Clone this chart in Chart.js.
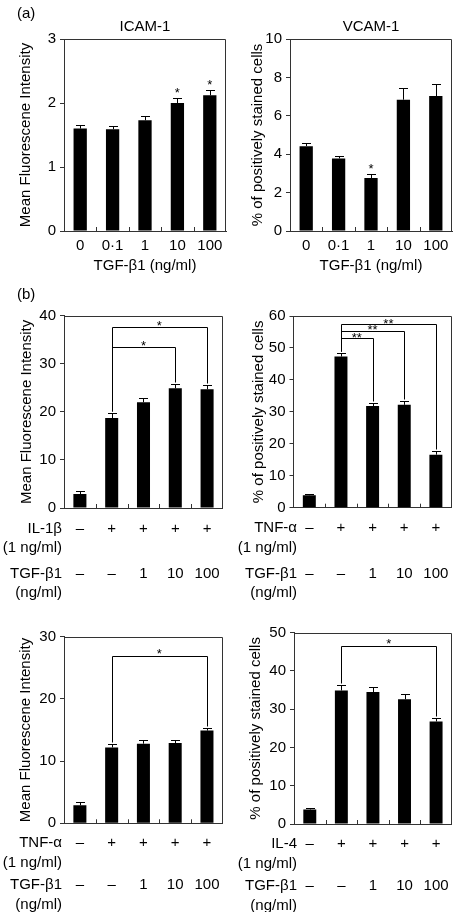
<!DOCTYPE html>
<html><head><meta charset="utf-8">
<script src="https://cdn.jsdelivr.net/npm/chart.js@4"></script>
<style>
html,body{margin:0;padding:0;background:#fff;}
body{width:458px;height:912px;position:relative;overflow:hidden;}
canvas{position:absolute;}
</style></head><body>
<canvas id="c1" width="229" height="280" style="left:0;top:0"></canvas>
<canvas id="c2" width="229" height="280" style="left:229px;top:0"></canvas>
<canvas id="c3" width="229" height="330" style="left:0;top:280px"></canvas>
<canvas id="c4" width="229" height="330" style="left:229px;top:280px"></canvas>
<canvas id="c5" width="229" height="302" style="left:0;top:610px"></canvas>
<canvas id="c6" width="229" height="302" style="left:229px;top:610px"></canvas>
<script>
// ---------- data ----------
const doseLabels = ['0', '0·1', '1', '10', '100'];
const icamA = [1.60, 1.59, 1.73, 2.00, 2.12];
const icamAErr = [0.05, 0.05, 0.06, 0.08, 0.08];
const icamAStars = ['', '', '', '*', '*'];
const vcamA = [4.42, 3.78, 2.76, 6.84, 7.03];
const vcamAErr = [0.17, 0.15, 0.19, 0.62, 0.62];
const vcamAStars = ['', '', '*', '', ''];

const stimSigns = ['–', '+', '+', '+', '+'];
const tgfDoses = ['–', '–', '1', '10', '100'];

const il1Icam = [2.9, 18.7, 22.0, 24.9, 24.7];
const il1IcamErr = [0.6, 1.0, 0.9, 0.9, 0.9];
const il1Brackets = { from: [1, 1], to: [4, 3], level: [37.6, 33.5], mark: ['*', '*'] };

const tnfVcam = [3.9, 47.3, 31.8, 32.2, 16.6];
const tnfVcamErr = [0.4, 1.2, 1.1, 1.1, 1.1];
const tnfVcamBrackets = { from: [1, 1, 1], to: [4, 3, 2], level: [57.5, 55.4, 53.0], mark: ['**', '**', '**'] };

const tnfIcam = [2.9, 12.2, 12.8, 12.9, 14.9];
const tnfIcamErr = [0.45, 0.55, 0.6, 0.55, 0.4];
const tnfIcamBrackets = { from: [1], to: [4], level: [26.9], mark: ['*'] };

const il4Vcam = [3.8, 34.9, 34.5, 32.6, 26.8];
const il4VcamErr = [0.45, 1.3, 1.2, 1.5, 1.0];
const il4VcamBrackets = { from: [1], to: [4], level: [46.6], mark: ['*'] };

// ---------- drawing ----------
const FONT = '"Liberation Sans", Arial, Helvetica, sans-serif';
const AXIS = '#333';

const decor = {
  id: 'decor',
  afterDatasetsDraw(chart, args, o) {
    const { ctx, chartArea: a, scales: { x, y } } = chart;
    const vals = chart.data.datasets[0].data;
    ctx.save();
    ctx.lineWidth = 1;
    // box top and right
    ctx.strokeStyle = AXIS;
    ctx.beginPath();
    const t = Math.round(a.top) + 0.5, r = Math.round(a.right) - 0.5;
    ctx.moveTo(a.left, t); ctx.lineTo(r, t); ctx.lineTo(r, a.bottom);
    // inward ticks between categories
    for (let i = 0; i < vals.length - 1; i++) {
      const bx = Math.round((x.getPixelForValue(i) + x.getPixelForValue(i + 1)) / 2) + 0.5;
      ctx.moveTo(bx, a.bottom); ctx.lineTo(bx, a.bottom - 4);
    }
    ctx.stroke();
    // error bars
    ctx.strokeStyle = '#000';
    ctx.beginPath();
    const caps = [];
    vals.forEach((v, i) => {
      const cx = Math.round(x.getPixelForValue(i)) + 0.5;
      const y0 = y.getPixelForValue(v);
      const y1 = Math.round(y.getPixelForValue(v + o.err[i])) + 0.5;
      caps.push(y1);
      ctx.moveTo(cx, y0); ctx.lineTo(cx, y1);
      ctx.moveTo(cx - 4.5, y1); ctx.lineTo(cx + 4.5, y1);
    });
    ctx.stroke();
    ctx.fillStyle = '#000';
    ctx.textAlign = 'center';
    ctx.textBaseline = 'alphabetic';
    ctx.font = '13px ' + FONT;
    // stars on bars
    if (o.stars) {
      o.stars.forEach((s, i) => {
        if (!s) return;
        ctx.fillText(s, x.getPixelForValue(i), caps[i] - 9.5 + 7.5);
      });
    }
    // brackets
    if (o.brackets) {
      const b = o.brackets;
      ctx.beginPath();
      b.from.forEach((f, k) => {
        const xa = Math.round(x.getPixelForValue(f)) + 0.5;
        const xb = Math.round(x.getPixelForValue(b.to[k])) + 0.5;
        const ly = Math.round(y.getPixelForValue(b.level[k])) + 0.5;
        ctx.moveTo(xa, caps[f] - 2); ctx.lineTo(xa, ly); ctx.lineTo(xb, ly); ctx.lineTo(xb, caps[b.to[k]] - 2);
      });
      ctx.stroke();
      b.from.forEach((f, k) => {
        const xm = (x.getPixelForValue(f) + x.getPixelForValue(b.to[k])) / 2;
        const ly = y.getPixelForValue(b.level[k]);
        ctx.fillText(b.mark[k], xm, ly - (o.starGap || 4.5) + 7.5);
      });
    }
    // texts
    ctx.textBaseline = 'middle';
    ctx.font = '15px ' + FONT;
    if (o.rows) {
      ctx.textAlign = 'right';
      o.rows.forEach((txt, i) => ctx.fillText(txt, o.rowX, a.bottom + o.rowOff[i]));
    }
    if (o.title) {
      ctx.textAlign = 'center';
      ctx.fillText(o.title, (a.left + a.right) / 2, o.titleY);
    }
    if (o.tag) {
      ctx.textAlign = 'left';
      ctx.fillText(o.tag, o.tagX, o.tagY);
    }
    ctx.restore();
  }
};

function makeChart(id, c) {
  return new Chart(document.getElementById(id), {
    type: 'bar',
    data: {
      labels: c.labels,
      datasets: [{ data: c.values, backgroundColor: '#000', borderWidth: 0, barPercentage: 0.41, categoryPercentage: 1 }]
    },
    options: {
      responsive: false, animation: false, devicePixelRatio: 1,
      layout: { padding: { left: 0, top: c.top, right: c.right, bottom: 0 } },
      plugins: { legend: { display: false }, tooltip: { enabled: false }, decor: c.decor },
      scales: {
        x: {
          offset: true,
          grid: { display: false, drawTicks: false },
          border: { display: true, color: AXIS, width: 1 },
          ticks: { color: '#000', font: { family: FONT, size: 15, lineHeight: c.xLine }, padding: c.xPad, autoSkip: false, maxRotation: 0, minRotation: 0 },
          title: c.xTitle ? { display: true, text: c.xTitle, color: '#000', font: { family: FONT, size: 15 }, padding: { top: 0, bottom: 5 } } : { display: false },
          afterFit(s) { s.height = c.xH; }
        },
        y: {
          min: 0, max: c.max,
          ticks: { stepSize: c.step, color: '#000', font: { family: FONT, size: 15 }, padding: 4 },
          grid: { drawOnChartArea: false, drawTicks: true, tickLength: 4, color: AXIS },
          border: { display: true, color: AXIS, width: 1 },
          title: { display: true, text: c.yTitle, color: '#000', font: { family: FONT, size: 15 }, padding: { top: c.yTitlePad, bottom: 0 } },
          afterFit(s) { s.width = c.yW; }
        }
      }
    },
    plugins: [decor]
  });
}

const MFI = 'Mean Fluorescene Intensity';
const PCT = '% of positively stained cells';
const bLabels = stimSigns.map((s, i) => [s, '', tgfDoses[i]]);

makeChart('c1', {
  labels: doseLabels, values: icamA, max: 3, step: 1, top: 39, right: 3, yW: 64, xH: 49,
  xPad: 6, xLine: 1.2, xTitle: 'TGF-β1 (ng/ml)', yTitle: MFI, yTitlePad: 17,
  decor: { err: icamAErr, stars: icamAStars, title: 'ICAM-1', titleY: 27, tag: '(a)', tagX: 17, tagY: 13.5 }
});
makeChart('c2', {
  labels: doseLabels, values: vcamA, max: 10, step: 2, top: 39, right: 6, yW: 61, xH: 49,
  xPad: 6, xLine: 1.2, xTitle: 'TGF-β1 (ng/ml)', yTitle: PCT, yTitlePad: 20,
  decor: { err: vcamAErr, stars: vcamAStars, title: 'VCAM-1', titleY: 27 }
});
makeChart('c3', {
  labels: bLabels, values: il1Icam, max: 40, step: 10, top: 35.7, right: 3, yW: 64, xH: 102,
  xPad: 9.1, xLine: '22.75px', yTitle: MFI, yTitlePad: 18,
  decor: { err: il1IcamErr, brackets: il1Brackets, starGap: 4.8,
    rows: ['IL-1β', '(1 ng/ml)', 'TGF-β1', '(ng/ml)'], rowOff: [20.5, 40, 66, 85], rowX: 62,
    tag: '(b)', tagX: 17, tagY: 15 }
});
makeChart('c4', {
  labels: bLabels, values: tnfVcam, max: 60, step: 10, top: 36, right: 5, yW: 64.5, xH: 102.3,
  xPad: 9.1, xLine: '22.75px', yTitle: PCT, yTitlePad: 21,
  decor: { err: tnfVcamErr, brackets: tnfVcamBrackets, starGap: 3.8,
    rows: ['TNF-α', '(1 ng/ml)', 'TGF-β1', '(ng/ml)'], rowOff: [20.5, 40, 66, 85], rowX: 68 }
});
makeChart('c5', {
  labels: bLabels, values: tnfIcam, max: 30, step: 10, top: 26.7, right: 3.3, yW: 64, xH: 88.7,
  xPad: 9.2, xLine: '21px', yTitle: MFI, yTitlePad: 17,
  decor: { err: tnfIcamErr, brackets: tnfIcamBrackets, starGap: 5.5,
    rows: ['TNF-α', '(1 ng/ml)', 'TGF-β1', '(ng/ml)'], rowOff: [19.7, 40, 61.7, 81.7], rowX: 62 }
});
makeChart('c6', {
  labels: bLabels, values: il4Vcam, max: 50, step: 10, top: 22.7, right: 2, yW: 65, xH: 88,
  xPad: 9.2, xLine: '21px', yTitle: PCT, yTitlePad: 18,
  decor: { err: il4VcamErr, brackets: il4VcamBrackets, starGap: 5,
    rows: ['IL-4', '(1 ng/ml)', 'TGF-β1', '(ng/ml)'], rowOff: [19.7, 40, 61.7, 81.7], rowX: 68 }
});
</script>
</body></html>
